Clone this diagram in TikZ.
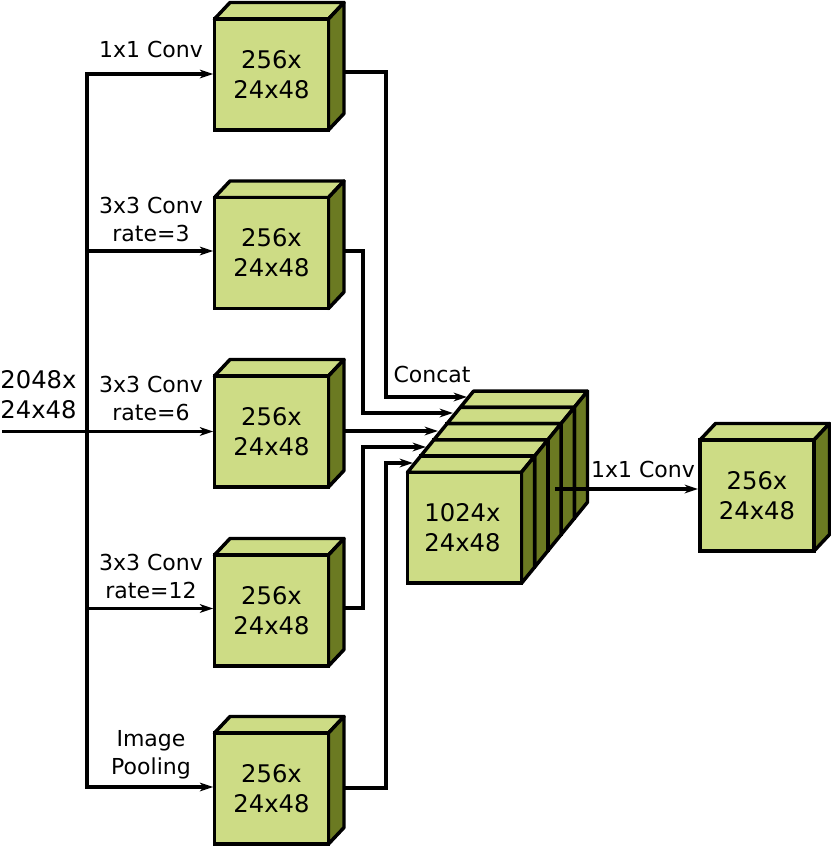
\documentclass[tikz,border=0pt]{standalone}
\usepackage{fontspec}
\setmainfont{DejaVu Sans}
\usetikzlibrary{arrows.meta,calc}
\definecolor{blocklight}{RGB}{205,220,133}
\definecolor{blockdark}{RGB}{107,122,34}
\tikzset{
  edgeline/.style={line width=2.6pt},
  frontface/.style={edgeline,draw=black,fill=blocklight,minimum width=85.5pt,minimum height=83pt,
    inner sep=0pt,outer sep=0pt,align=center,text=black,font=\fontsize{18.2}{22.5}\selectfont},
  topface/.style={edgeline,line join=round,draw=black,fill=blocklight},
  sideface/.style={edgeline,line join=round,draw=black,fill=blockdark},
  link/.style={line width=2.4pt,black},
  flow/.style={link,-{Stealth[length=10pt,width=6.5pt,inset=3pt]}},
  caption/.style={inner sep=0pt,align=center,font=\fontsize{16.5}{21}\selectfont},
  datasize/.style={inner sep=0pt,align=center,font=\fontsize{18.2}{22.5}\selectfont},
}
% Block: name, centre x, centre y, depth x, depth y, label
\newcommand{\drawblock}[6]{%
  \draw[topface] (#2-57,#3-55.5) -- ++(#4,-#5) -- ++(114,0) -- ++(-#4,#5) -- cycle;
  \draw[sideface] (#2+57,#3-55.5) -- ++(#4,-#5) -- ++(0,111) -- ++(-#4,#5) -- cycle;
  \node[frontface] (#1) at (#2,#3) {#6};
}
\begin{document}
\begin{tikzpicture}[x=0.75pt,y=-0.75pt]
\useasboundingbox (0,0) rectangle (831,847);

% Parallel branches
\drawblock{b1}{271.5}{74.5}{15.5}{16.5}{256x\\24x48}
\drawblock{b2}{271.5}{253}{15.5}{16.5}{256x\\24x48}
\drawblock{b3}{271.5}{431.5}{15.5}{16.5}{256x\\24x48}
\drawblock{b4}{271.5}{610.5}{15.5}{16.5}{256x\\24x48}
\drawblock{b5}{271.5}{788.5}{15.5}{16.5}{256x\\24x48}

% Concatenated stack, painted back to front
\drawblock{s1}{517.3}{462.9}{13.2}{16.2}{}
\drawblock{s2}{504.1}{479.1}{13.2}{16.2}{}
\drawblock{s3}{490.9}{495.3}{13.2}{16.2}{}
\drawblock{s4}{477.7}{511.5}{13.2}{16.2}{}
\drawblock{s5}{464.5}{527.75}{13.2}{16.2}{}
\node[datasize] (s5text) at (462.5,527.5) {1024x\\24x48};

% Output block
\drawblock{out}{757}{495.5}{15.5}{16.5}{256x\\24x48}

% Named connector ends
\coordinate (source) at (2,431.5);
\coordinate (trunk) at (87,431);
\coordinate (w1) at ($(b1.west)+(0,-0.5)$);
\coordinate (w2) at ($(b2.west)+(0,-2)$);
\coordinate (w4) at ($(b4.west)+(0,-2)$);
\coordinate (w5) at ($(b5.west)+(0,-1.5)$);
\coordinate (o1) at (344,72);
\coordinate (o2) at (344,251);
\coordinate (o3) at (344,431);
\coordinate (o4) at (344,608);
\coordinate (o5) at (344,788);
\coordinate (i1) at (467,397);
\coordinate (i2) at (453,413);
\coordinate (i3) at (438,431);
\coordinate (i4) at (426,447);
\coordinate (i5) at (413,463);
\coordinate (merge) at (555,489);
\coordinate (result) at (698,489);

% Input side
\draw[link,line cap=rect] (w1 -| trunk) -- (w5 -| trunk);
\draw[flow,shorten >=1pt] (source) -- (b3.west);
\foreach \w in {w1,w2,w4,w5}
  \draw[flow,shorten >=1pt] (\w -| trunk) -- (\w);

% Into the stack
\draw[flow] (o1) -- ++(42,0) |- (i1);
\draw[flow] (o2) -- ++(19,0) |- (i2);
\draw[flow] (o3) -- (i3);
\draw[flow] (o4) -- ++(19,0) |- (i4);
\draw[flow] (o5) -- ++(42,0) |- (i5);

% Out of the stack
\draw[flow] (merge) -- (result);

% Labels
\node[datasize] (inlabel) at (38.5,395) {2048x\\24x48};
\node[caption] (c1) at (151,49) {1x1 Conv};
\node[caption] (c2) at (151,219) {3x3 Conv\\rate=3};
\node[caption] (c3) at (151,398) {3x3 Conv\\rate=6};
\node[caption] (c4) at (151,576) {3x3 Conv\\rate=12};
\node[caption] (c5) at (151,754.5) {Image\\Pooling};
\node[caption] (c6) at (432,374) {Concat};
\node[caption] (c7) at (643,469) {1x1 Conv};
\end{tikzpicture}
\end{document}
